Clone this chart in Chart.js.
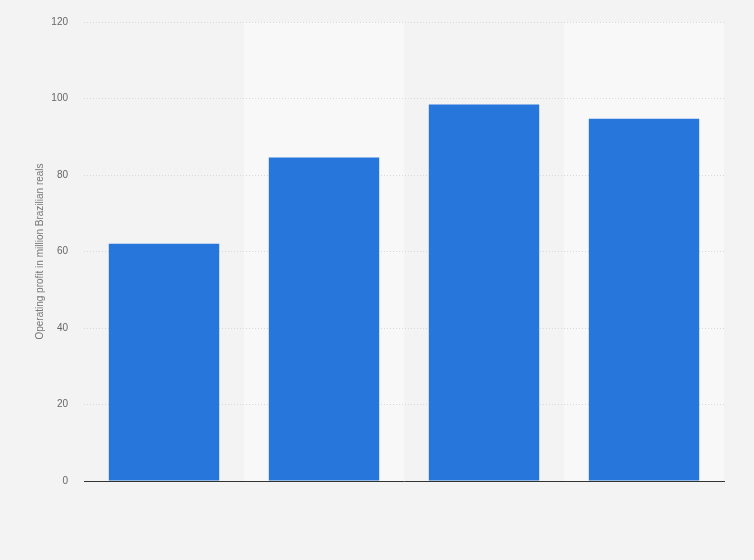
<!DOCTYPE html>
<html>
<head>
    <title>Operating profit</title>
    <script src="https://cdn.jsdelivr.net/npm/chart.js"></script>
    <style>
        html, body { margin: 0; padding: 0; background: #f3f3f3; }
        #wrap { width: 754px; height: 560px; }
    </style>
</head>
<body>
    <div id="wrap"><canvas id="profitChart"></canvas></div>
    <script>
        // categories are not labelled in the picture
        const categories = ['1', '2', '3', '4'];
        const profitValues = [62, 84.6, 98.4, 94.7];
        const yTicks = [0, 20, 40, 60, 80, 100, 120];

        // background + alternating column bands
        const bandPlugin = {
            id: 'bands',
            beforeDraw(chart) {
                const { ctx, chartArea, scales } = chart;
                ctx.save();
                ctx.fillStyle = '#f3f3f3';
                ctx.fillRect(0, 0, chart.width, chart.height);
                const x = scales.x;
                const step = x.width / categories.length;
                ctx.fillStyle = '#f8f8f8';
                categories.forEach((c, i) => {
                    if (i % 2 === 1) {
                        const cx = x.getPixelForValue(i);
                        ctx.fillRect(cx - step / 2, chartArea.top, step, chartArea.bottom - chartArea.top);
                    }
                });
                ctx.restore();
            }
        };

        const ctx = document.getElementById('profitChart').getContext('2d');
        new Chart(ctx, {
            type: 'bar',
            data: {
                labels: categories,
                datasets: [{
                    label: 'Operating profit',
                    data: profitValues,
                    backgroundColor: '#2776db',
                    barPercentage: 0.69,
                    categoryPercentage: 1.0
                }]
            },
            options: {
                responsive: true,
                maintainAspectRatio: false,
                animation: false,
                layout: { padding: { left: 0, right: 30, top: 13, bottom: 79 } },
                plugins: {
                    legend: { display: false },
                    tooltip: { enabled: false }
                },
                scales: {
                    x: {
                        ticks: { display: false },
                        grid: { display: false, drawTicks: false },
                        border: { display: true, color: '#333333', width: 1 }
                    },
                    y: {
                        min: 0,
                        max: 120,
                        afterFit(scale) { scale.width = 84; },
                        afterBuildTicks(scale) { scale.ticks = yTicks.map(v => ({ value: v })); },
                        ticks: {
                            color: '#666666',
                            font: { family: 'Liberation Sans', size: 10 },
                            padding: 16
                        },
                        grid: {
                            color: ctx => ctx.tick.value === 0 ? 'rgba(0,0,0,0)' : '#d9d9d9',
                            drawTicks: false
                        },
                        border: { display: false, dash: [1, 2] },
                        title: {
                            display: true,
                            text: 'Operating profit in million Brazilian reals',
                            color: '#777777',
                            font: { family: 'Liberation Sans', size: 10 },
                            padding: { top: 34, bottom: 0 }
                        }
                    }
                }
            },
            plugins: [bandPlugin]
        });
    </script>
</body>
</html>
